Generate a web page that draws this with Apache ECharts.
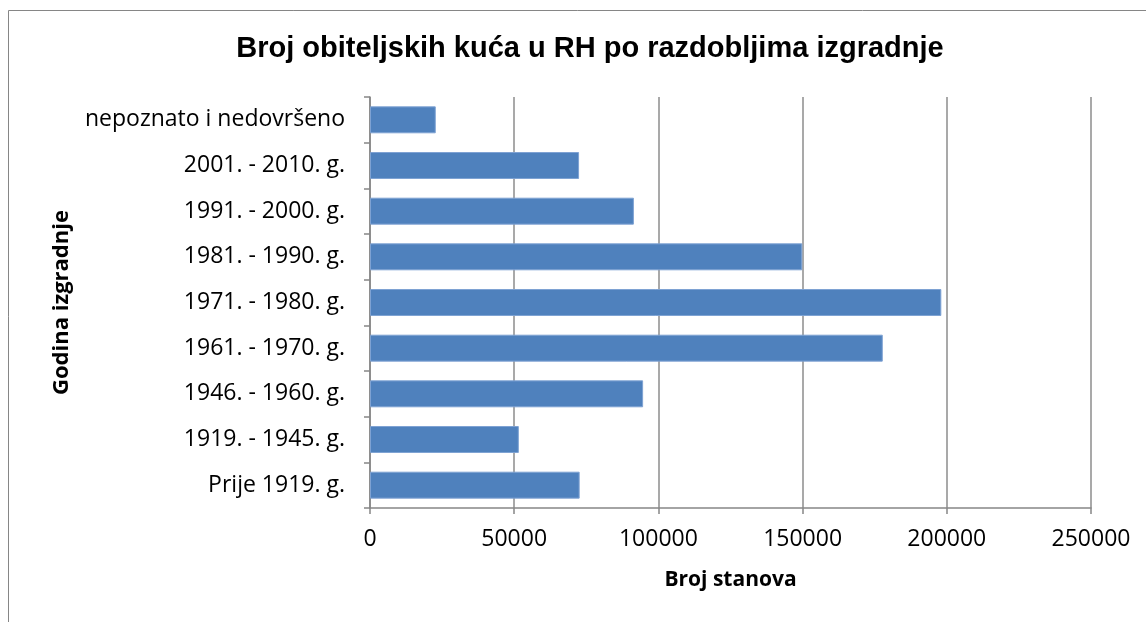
<!DOCTYPE html>
<html><head><meta charset="utf-8">
<script src="https://cdn.jsdelivr.net/npm/echarts@6/dist/echarts.min.js"></script>
<style>html,body{margin:0;padding:0;background:#fff}#c{width:1146px;height:622px}</style>
</head><body><div id="c"></div>
<script>
const categories = ['Prije 1919. g.','1919. - 1945. g.','1946. - 1960. g.','1961. - 1970. g.','1971. - 1980. g.','1981. - 1990. g.','1991. - 2000. g.','2001. - 2010. g.','nepoznato i nedovršeno'];
const values = [72700, 51600, 94700, 177800, 198100, 149900, 91500, 72500, 22800];
const xTicks = [0, 50000, 100000, 150000, 200000, 250000];
const titleText = 'Broj obiteljskih kuća u RH po razdobljima izgradnje';
const xName = 'Broj stanova';
const yName = 'Godina izgradnje';

const chart = echarts.init(document.getElementById('c'), null, {renderer:'canvas'});
const labelFont = 'Open Sans';
chart.setOption({
  animation:false,
  backgroundColor:'#fff',
  graphic:[{type:'rect', shape:{x:8.5,y:10.5,width:1200,height:700}, style:{fill:'none', stroke:'#868686', lineWidth:1}, silent:true}],
  title:{text:titleText, left:585, top:29, textAlign:'center',
    textStyle:{fontFamily:'Liberation Sans', fontWeight:'bold', fontSize:29, color:'#000'}},
  grid:{left:370, right:55, top:97, bottom:114, containLabel:false},
  xAxis:{type:'value', min:xTicks[0], max:xTicks[xTicks.length-1], interval:50000,
    name:xName, nameLocation:'middle', nameGap:62,
    nameTextStyle:{fontFamily:labelFont, fontWeight:'bold', fontSize:21, color:'#000'},
    axisLine:{show:true, lineStyle:{color:'#868686', width:1.5}},
    axisTick:{show:true, length:6, lineStyle:{color:'#868686', width:1.5}},
    axisLabel:{fontFamily:labelFont, fontSize:23, color:'#000', margin:20, formatter:function(v){return String(v);}},
    splitLine:{show:true, lineStyle:{color:'#8c8c8c', width:1.5}}},
  yAxis:{type:'category', data:categories,
    name:yName, nameLocation:'middle', nameGap:297, nameRotate:90,
    nameTextStyle:{fontFamily:labelFont, fontWeight:'bold', fontSize:22, color:'#000'},
    axisLine:{show:true, lineStyle:{color:'#868686', width:1.5}},
    axisTick:{show:true, length:6, lineStyle:{color:'#868686', width:1.5}},
    axisLabel:{fontFamily:labelFont, fontSize:23, color:'#000', margin:25},
    splitLine:{show:false}},
  series:[{type:'bar', data:values, barCategoryGap:'41%',
    itemStyle:{color:'#4f81bd', borderColor:'#7ea2d3', borderWidth:1}}]
});
</script></body></html>
